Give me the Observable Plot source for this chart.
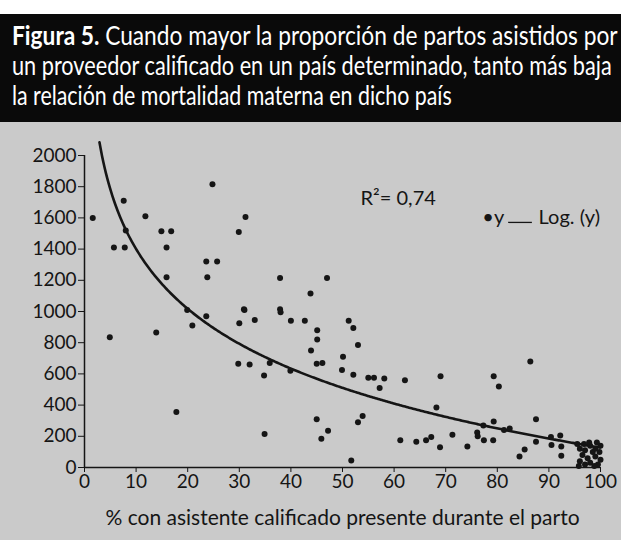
<!DOCTYPE html>
<html><head><meta charset="utf-8">
<script src="https://cdn.jsdelivr.net/npm/d3@7"></script>
<script src="https://cdn.jsdelivr.net/npm/@observablehq/plot@0.6"></script>
<style>
body{margin:0;background:#fff;width:621px;height:540px;overflow:hidden;font-family:Lato,sans-serif;position:relative}
#banner{position:absolute;left:0;top:14px;width:621px;height:108px;background:#0a0a0a}
#chart{position:absolute;left:0;top:122px;width:621px;height:418px;background:#cacaca}
</style></head><body>
<div id="banner"></div>
<div id="chart"></div>
<script>
// ---- data ----
const titleBold = "Figura 5.";
const titleLines = [
  " Cuando mayor la proporción de partos asistidos por",
  "un proveedor calificado en un país determinado, tanto más baja",
  "la relación de mortalidad materna en dicho país"
];
const xLabel = "% con asistente calificado presente durante el parto";
const r2Label = "R\u00B2= 0,74";
const legendPoint = "\u2022y";
const legendLine = "Log. (y)";
const xTicks = [0,10,20,30,40,50,60,70,80,90,100];
const yTicks = [0,200,400,600,800,1000,1200,1400,1600,1800,2000];
// % skilled attendant at delivery
const pctAttended = [
  1.6,7.6,8,5.7,7.8,11.8,14.9,16.8,15.9,15.9,24.8,31.2,29.9,23.6,25.7,23.8,30.9,
  4.9,13.9,17.8,19.9,20.9,23.6,31,30,33,29.8,32,
  37.9,47,43.8,37.9,38,40,42.7,45.1,45.1,43.9,45,46.1,35.9,34.8,39.9,
  51.2,52.1,53,50.1,49.9,52.1,55,56.1,58.1,57.2,62.1,69,68.2,
  45,47.2,45.9,34.9,53.9,53,51.7,61.2,64.3,66.2,67.2,68.9,
  71.3,74.2,76.1,76.2,77.3,77.4,79.3,80.3,79.3,79.2,81.3,82.4,
  86.4,87.5,87.5,84.3,85.3,90.4,90.5,92.2,92.4,92.4,
  95.5,96,96.5,96,97,97.5,97,98,98.5,98,99,99,99.5,99.8,100,100,96.8,98.8,97.8,99.3,95.8
];
// maternal mortality ratio
const mmr = [
  1600,1710,1520,1410,1410,1610,1515,1515,1410,1220,1815,1605,1510,1320,1320,1220,1015,
  835,865,355,1010,910,970,1010,925,945,665,660,
  1215,1215,1115,1015,995,940,940,880,820,750,665,670,670,590,620,
  940,895,785,710,625,595,575,575,570,510,560,585,385,
  310,235,185,215,330,290,45,175,165,175,195,130,
  210,135,225,200,270,175,585,520,295,175,240,250,
  680,310,165,70,115,195,145,205,135,75,
  150,120,80,40,110,60,20,140,100,30,120,70,20,100,140,50,150,10,160,160,10
];
// logarithmic trend coefficients
const trendSlope = -553;
const trendIntercept = 2674;

// ---- banner ----
const ns = "http://www.w3.org/2000/svg";
const bsvg = document.createElementNS(ns,"svg");
bsvg.setAttribute("width",621); bsvg.setAttribute("height",108);
document.getElementById("banner").appendChild(bsvg);
const widths = [606, 600, 440];
titleLines.forEach((line,i)=>{
  const t = document.createElementNS(ns,"text");
  t.setAttribute("x",0); t.setAttribute("y",0);
  t.setAttribute("fill","#fff"); t.setAttribute("font-size",27);
  t.setAttribute("font-family","Lato, sans-serif");
  if(i===0){
    const b = document.createElementNS(ns,"tspan");
    b.setAttribute("font-weight","bold"); b.textContent = titleBold; t.appendChild(b);
    const r = document.createElementNS(ns,"tspan"); r.textContent = line; t.appendChild(r);
  } else t.textContent = line;
  bsvg.appendChild(t);
  const natural = t.getComputedTextLength();
  const s = widths[i]/natural;
  t.setAttribute("transform", `translate(12,${31+i*30}) scale(${s},1)`);
});

// ---- chart ----
const pts = pctAttended.map((x,i)=>({x, y: mmr[i]}));
const xsCurve = d3.range(2.9, 100.001, 0.25);
const trend = xsCurve.map(x=>({x, y: trendIntercept + trendSlope*Math.log(x)}));

const ink = "#151515";
const chart = Plot.plot({
  width: 621, height: 418,
  marginLeft: 84, marginRight: 21, marginTop: 33, marginBottom: 73,
  style: {background: "transparent", fontFamily: "Lato, sans-serif", fontSize: "19px", color: ink},
  x: {domain: [0,100], ticks: xTicks, tickSize: 5, tickPadding: 2, label: null, tickFormat: d=>String(d)},
  y: {domain: [0,2000], ticks: yTicks, tickSize: 6, tickPadding: 2, label: null, tickFormat: d=>String(d)},
  marks: [
    Plot.ruleX([0], {stroke: ink, strokeWidth: 1.5}),
    Plot.ruleY([0], {stroke: ink, strokeWidth: 1.5}),
    Plot.line(trend, {x:"x", y:"y", stroke: ink, strokeWidth: 2.6}),
    Plot.dot(pts, {x:"x", y:"y", r: 3, fill: ink, stroke: "none"}),
    Plot.text([r2Label], {x: 53.5, y: 1724, text: d=>d, textAnchor:"start", fontSize: 20, fill: ink}),
    Plot.text([legendPoint], {x: 77.1, y: 1603, text: d=>d, textAnchor:"start", fontSize: 20, fill: ink}),
    Plot.ruleY([1571], {x1: 82.2, x2: 86.8, stroke: ink, strokeWidth: 1.3}),
    Plot.text([legendLine], {x: 88.0, y: 1603, text: d=>d, textAnchor:"start", fontSize: 20, fill: ink}),
    Plot.text([xLabel], {frameAnchor: "bottom", dy: 57, text: d=>d, fontSize: 21, fill: ink})
  ]
});
document.getElementById("chart").appendChild(chart);
</script>
</body></html>
